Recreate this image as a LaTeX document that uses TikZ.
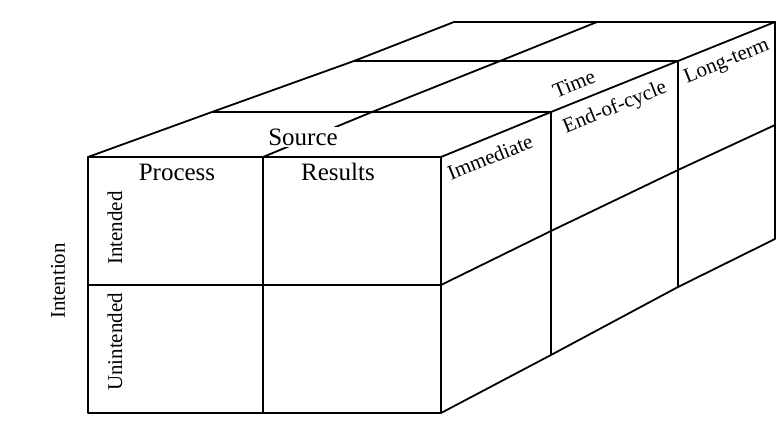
\documentclass[tikz,border=0pt]{standalone}
\usepackage{fontspec}
\setmainfont{Liberation Serif}
\usetikzlibrary{calc}

\begin{document}
\begin{tikzpicture}[x=0.5pt,y=-0.5pt,
   edge/.style={line width=0.9pt,line join=round},
   lab/.style={inner sep=1pt,font=\fontsize{10.5}{12}\selectfont},
   biglab/.style={inner sep=1pt,font=\fontsize{12.5}{14}\selectfont},
   slant/.style={lab,inner sep=0pt,rotate=22}
  ]
\useasboundingbox (0,0) rectangle (784,432);

% front face
\coordinate (fl0) at (88,157);
\coordinate (flm) at (88,285);
\coordinate (fmb) at (263,413);
% right face, one column of corners per depth
\foreach \i/\x/\t/\m/\b in {0/441/157/285/413,1/551/112/231/355,2/678/61/170/287,3/775/22/125/239}{
  \coordinate (rt\i) at (\x,\t);
  \coordinate (rm\i) at (\x,\m);
  \coordinate (rb\i) at (\x,\b);
}
% top face
\coordinate (tl1) at (212,112);
\coordinate (tl2) at (354,61);
\coordinate (tl3) at (454,22);
\coordinate (tm0) at (263,157);
\coordinate (tm1) at (372,112);
\coordinate (tm2) at (500,61);
\coordinate (tm3) at (597,22);

\draw[edge] (fl0) rectangle (rb0);
\draw[edge] (tm0) -- (fmb);
\draw[edge] (flm) -- (rm0);

\draw[edge] (rt0) -- (rt1) -- (rt2) -- (rt3) -- (rb3) -- (rb2) -- (rb1) -- (rb0);
\draw[edge] (rm0) -- (rm1) -- (rm2) -- (rm3);
\draw[edge] (rt1) -- (rb1);
\draw[edge] (rt2) -- (rb2);

\draw[edge] (fl0) -- (tl1) -- (tl2) -- (tl3) -- (rt3);
\draw[edge] (tl1) -- (rt1);
\draw[edge] (tl2) -- (rt2);
\draw[edge] (tm0) -- (tm1) -- (tm2) -- (tm3);

% labels
\node[biglab,fill=white] (source) at (303,137) {Source};
\node[biglab] (process) at (177,172) {Process};
\node[biglab] (results) at (338,172) {Results};
\node[lab,rotate=90] (intended) at (115,228) {Intended};
\node[lab,rotate=90] (unintended) at (115,342) {Unintended};
\node[lab,rotate=90] (intention) at (58,281) {Intention};
\node[slant] (time) at (574,84) {Time};
\node[slant] (immediate) at (490,157) {Immediate};
\node[slant] (endcycle) at (615,108) {End-of-cycle};
\node[slant] (longterm) at (727,62) {Long-term};

\end{tikzpicture}
\end{document}
